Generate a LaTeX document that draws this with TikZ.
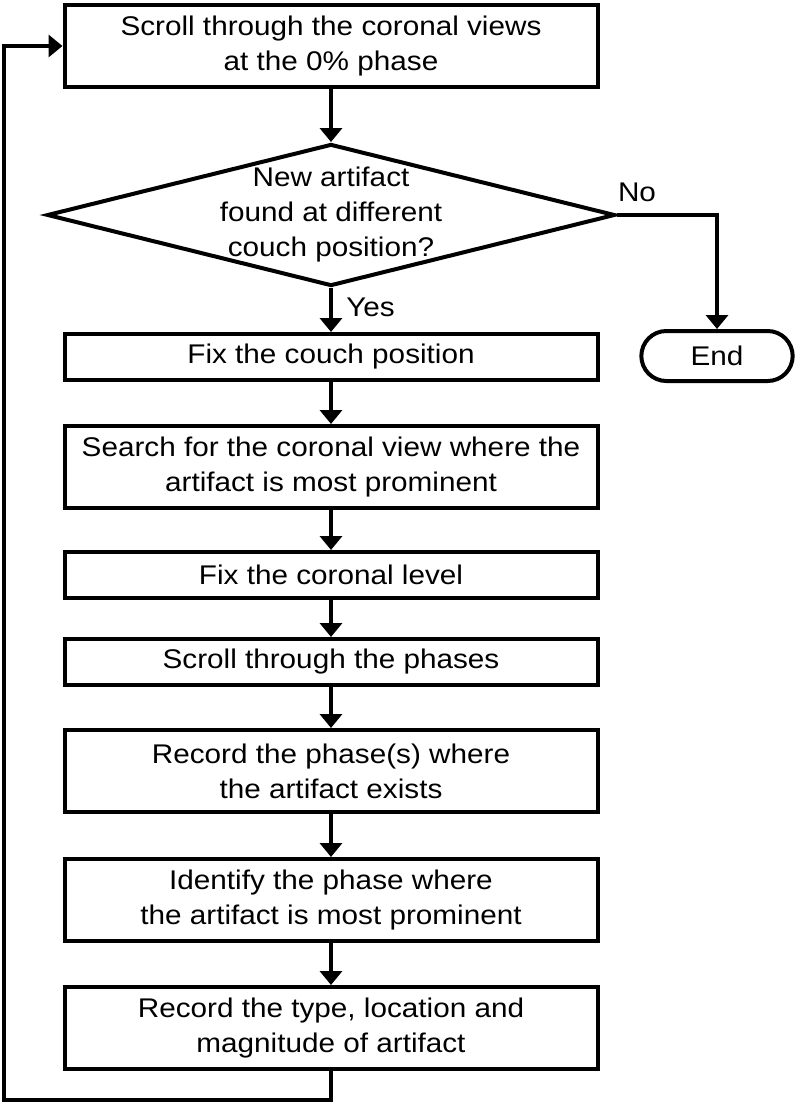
\documentclass[tikz,border=0pt]{standalone}
\usepackage{fontspec}
\setmainfont{Liberation Sans}[FakeStretch=1.1]
\usetikzlibrary{shapes.geometric,shapes.misc,arrows.meta}
\begin{document}
\begin{tikzpicture}[x=1pt,y=-1pt,line width=4pt,
    font=\fontsize{27}{35}\selectfont,
    stepbox/.style={draw,rectangle,align=center,minimum width=533pt,inner sep=0pt},
    flow/.style={-{Triangle[width=22pt,length=14pt]}}]
    \useasboundingbox (0,0) rectangle (800,1104);
    \node[stepbox,minimum height=82pt] (scroll) at (331,46) {Scroll through the coronal views\\at the 0\% phase};
    \node[draw,diamond,minimum width=568pt,minimum height=142pt,inner sep=0pt] (newart) at (331,215) {};
    \node[align=center] at (newart) {New artifact\\found at different\\couch position?};
    \node[draw,rounded rectangle,minimum width=158pt,minimum height=50pt] (stop) at (717,356) {End};
    \node[stepbox,minimum height=46pt] (couch) at (331,357) {Fix the couch position};
    \node[stepbox,minimum height=82pt] (search) at (331,467) {Search for the coronal view where the\\artifact is most prominent};
    \node[stepbox,minimum height=46pt] (level) at (331,575) {Fix the coronal level};
    \node[stepbox,minimum height=46pt] (phases) at (331,662) {Scroll through the phases};
    \node[stepbox,minimum height=82pt] (recph) at (331,771) {Record the phase(s) where\\the artifact exists};
    \node[stepbox,minimum height=82pt] (ident) at (331,900) {Identify the phase where\\the artifact is most prominent};
    \node[stepbox,minimum height=82pt] (rectype) at (331,1028) {Record the type, location and\\magnitude of artifact};
    \coordinate (loop) at (4,1100);
    \draw[flow] (scroll) -- (newart);
    \draw[flow] (newart) -- (couch) node[pos=0.45,right=10pt] {Yes};
    \draw[flow] (newart.east) -| (stop.north) node[pos=0.1,above=8pt] {No};
    \draw[flow] (couch) -- (search);
    \draw[flow] (search) -- (level);
    \draw[flow] (level) -- (phases);
    \draw[flow] (phases) -- (recph);
    \draw[flow] (recph) -- (ident);
    \draw[flow] (ident) -- (rectype);
    \draw[flow] (rectype.south) |- (loop) |- (scroll.west); % back to the top
\end{tikzpicture}
\end{document}
